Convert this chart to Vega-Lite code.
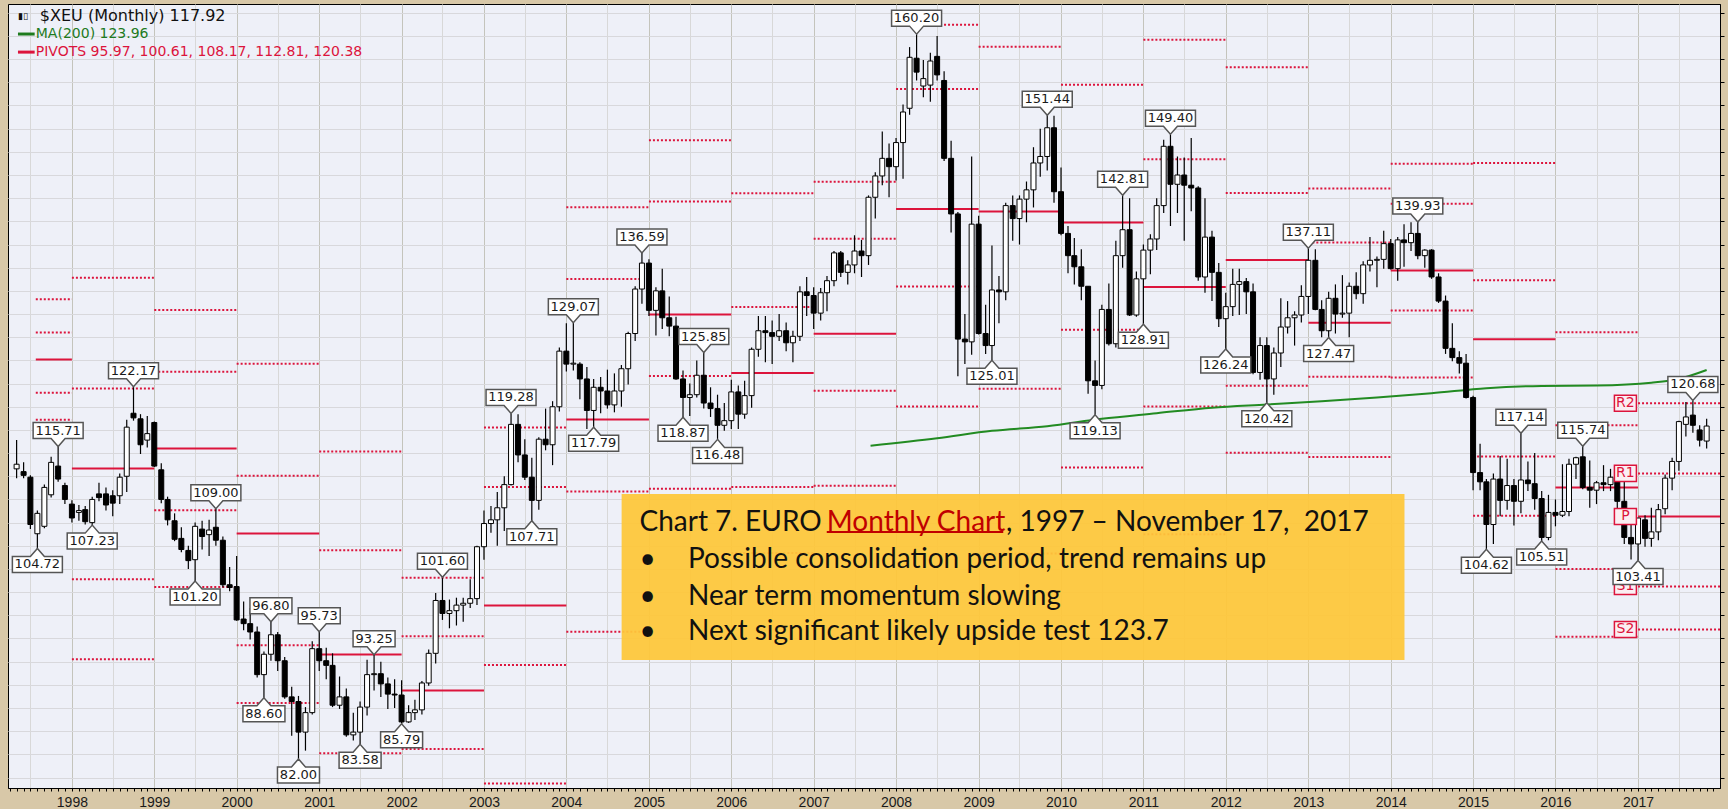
{
"$schema": "https://vega.github.io/schema/vega-lite/v6.json",
"width": 1712, "height": 784,
"autosize": {"type": "none"},
"padding": {"left": 8, "top": 4, "right": 8, "bottom": 21},
"background": "#d8c8a8",
"view": {"fill": "#eef0f8", "stroke": "#000000", "strokeWidth": 1},
"datasets": {
"cdl": [
{"d":"1997-05-01","o":113.3,"h":116.4,"l":112.3,"c":113.8},
{"d":"1997-06-01","o":113.0,"h":114.0,"l":112.3,"c":112.6},
{"d":"1997-07-01","o":112.4,"h":112.6,"l":106.8,"c":107.3},
{"d":"1997-08-01","o":106.3,"h":108.8,"l":104.72,"c":108.5},
{"d":"1997-09-01","o":107.1,"h":111.6,"l":106.9,"c":111.3},
{"d":"1997-10-01","o":110.5,"h":114.6,"l":110.2,"c":114.0},
{"d":"1997-11-01","o":113.6,"h":115.71,"l":111.9,"c":112.2},
{"d":"1997-12-01","o":111.5,"h":111.8,"l":109.5,"c":110.0},
{"d":"1998-01-01","o":109.5,"h":109.9,"l":107.5,"c":108.0},
{"d":"1998-02-01","o":108.6,"h":109.4,"l":107.7,"c":108.8},
{"d":"1998-03-01","o":108.9,"h":109.3,"l":107.3,"c":107.6},
{"d":"1998-04-01","o":107.5,"h":110.3,"l":107.23,"c":110.0},
{"d":"1998-05-01","o":110.6,"h":111.8,"l":109.8,"c":110.2},
{"d":"1998-06-01","o":110.6,"h":111.3,"l":108.8,"c":109.4},
{"d":"1998-07-01","o":110.4,"h":111.0,"l":108.2,"c":109.6},
{"d":"1998-08-01","o":110.4,"h":112.8,"l":109.5,"c":112.4},
{"d":"1998-09-01","o":112.5,"h":118.6,"l":110.8,"c":117.8},
{"d":"1998-10-01","o":119.3,"h":122.17,"l":118.5,"c":118.8},
{"d":"1998-11-01","o":118.7,"h":119.2,"l":114.9,"c":115.9},
{"d":"1998-12-01","o":116.4,"h":119.0,"l":115.6,"c":117.1},
{"d":"1999-01-01","o":118.3,"h":118.4,"l":113.5,"c":113.6},
{"d":"1999-02-01","o":113.2,"h":113.9,"l":109.6,"c":110.0},
{"d":"1999-03-01","o":110.0,"h":110.3,"l":107.2,"c":107.8},
{"d":"1999-04-01","o":107.7,"h":108.5,"l":105.5,"c":105.7},
{"d":"1999-05-01","o":105.8,"h":107.0,"l":104.3,"c":104.6},
{"d":"1999-06-01","o":104.5,"h":105.0,"l":102.5,"c":103.4},
{"d":"1999-07-01","o":103.5,"h":107.5,"l":101.2,"c":107.1},
{"d":"1999-08-01","o":106.8,"h":107.7,"l":104.6,"c":106.0},
{"d":"1999-09-01","o":106.2,"h":107.8,"l":103.9,"c":106.7},
{"d":"1999-10-01","o":107.0,"h":109.0,"l":105.0,"c":105.6},
{"d":"1999-11-01","o":105.6,"h":106.0,"l":100.5,"c":100.8},
{"d":"1999-12-01","o":100.8,"h":102.7,"l":100.1,"c":100.5},
{"d":"2000-01-01","o":100.6,"h":103.9,"l":96.9,"c":97.0},
{"d":"2000-02-01","o":97.1,"h":99.0,"l":95.9,"c":96.6},
{"d":"2000-03-01","o":96.6,"h":98.3,"l":94.9,"c":95.7},
{"d":"2000-04-01","o":95.7,"h":96.3,"l":90.8,"c":91.1},
{"d":"2000-05-01","o":91.1,"h":93.6,"l":88.6,"c":93.3},
{"d":"2000-06-01","o":93.3,"h":96.8,"l":92.6,"c":95.4},
{"d":"2000-07-01","o":95.4,"h":95.7,"l":91.5,"c":92.6},
{"d":"2000-08-01","o":92.6,"h":93.0,"l":88.5,"c":88.7},
{"d":"2000-09-01","o":88.7,"h":89.8,"l":84.5,"c":88.2},
{"d":"2000-10-01","o":88.2,"h":88.8,"l":82.0,"c":84.9},
{"d":"2000-11-01","o":84.9,"h":87.6,"l":82.9,"c":87.0},
{"d":"2000-12-01","o":87.0,"h":94.7,"l":86.8,"c":93.9},
{"d":"2001-01-01","o":93.9,"h":95.73,"l":91.5,"c":92.6},
{"d":"2001-02-01","o":92.6,"h":94.0,"l":90.6,"c":92.1},
{"d":"2001-03-01","o":92.1,"h":93.4,"l":87.6,"c":87.8},
{"d":"2001-04-01","o":87.8,"h":90.9,"l":87.4,"c":88.7},
{"d":"2001-05-01","o":88.7,"h":89.6,"l":84.4,"c":84.6},
{"d":"2001-06-01","o":84.6,"h":87.0,"l":84.0,"c":84.9},
{"d":"2001-07-01","o":84.9,"h":88.2,"l":83.58,"c":87.6},
{"d":"2001-08-01","o":87.6,"h":92.7,"l":86.7,"c":91.1},
{"d":"2001-09-01","o":91.1,"h":93.25,"l":89.4,"c":91.2},
{"d":"2001-10-01","o":91.2,"h":92.5,"l":88.7,"c":90.1},
{"d":"2001-11-01","o":90.1,"h":90.8,"l":87.4,"c":89.0},
{"d":"2001-12-01","o":89.0,"h":90.6,"l":87.5,"c":88.9},
{"d":"2002-01-01","o":88.9,"h":90.5,"l":85.79,"c":86.0},
{"d":"2002-02-01","o":86.0,"h":87.8,"l":85.9,"c":87.0},
{"d":"2002-03-01","o":87.0,"h":88.4,"l":86.2,"c":87.3},
{"d":"2002-04-01","o":87.3,"h":90.4,"l":86.8,"c":90.2},
{"d":"2002-05-01","o":90.2,"h":93.8,"l":89.9,"c":93.4},
{"d":"2002-06-01","o":93.4,"h":99.9,"l":92.3,"c":99.1},
{"d":"2002-07-01","o":99.1,"h":101.6,"l":97.0,"c":97.7},
{"d":"2002-08-01","o":97.7,"h":99.2,"l":96.1,"c":98.0},
{"d":"2002-09-01","o":98.0,"h":99.4,"l":96.4,"c":98.6},
{"d":"2002-10-01","o":98.6,"h":99.4,"l":96.8,"c":98.8},
{"d":"2002-11-01","o":98.8,"h":101.4,"l":98.3,"c":99.3},
{"d":"2002-12-01","o":99.3,"h":105.0,"l":98.6,"c":104.9},
{"d":"2003-01-01","o":104.9,"h":108.8,"l":103.5,"c":107.4},
{"d":"2003-02-01","o":107.4,"h":109.3,"l":106.4,"c":107.8},
{"d":"2003-03-01","o":107.8,"h":110.8,"l":105.0,"c":109.1},
{"d":"2003-04-01","o":109.1,"h":112.5,"l":106.6,"c":111.6},
{"d":"2003-05-01","o":111.6,"h":119.28,"l":111.5,"c":118.1},
{"d":"2003-06-01","o":118.1,"h":119.2,"l":114.0,"c":114.8},
{"d":"2003-07-01","o":114.8,"h":116.5,"l":112.1,"c":112.4},
{"d":"2003-08-01","o":112.4,"h":114.5,"l":107.71,"c":109.9},
{"d":"2003-09-01","o":109.9,"h":116.7,"l":108.9,"c":116.5},
{"d":"2003-10-01","o":116.5,"h":119.8,"l":115.3,"c":115.9},
{"d":"2003-11-01","o":115.9,"h":120.6,"l":113.7,"c":120.0},
{"d":"2003-12-01","o":120.0,"h":126.4,"l":119.5,"c":126.0},
{"d":"2004-01-01","o":126.0,"h":129.0,"l":123.8,"c":124.6},
{"d":"2004-02-01","o":124.6,"h":129.07,"l":123.9,"c":124.7},
{"d":"2004-03-01","o":124.6,"h":124.8,"l":120.8,"c":123.0},
{"d":"2004-04-01","o":123.0,"h":124.3,"l":117.6,"c":119.6},
{"d":"2004-05-01","o":119.6,"h":123.0,"l":117.79,"c":122.1},
{"d":"2004-06-01","o":122.1,"h":123.2,"l":119.3,"c":121.7},
{"d":"2004-07-01","o":121.7,"h":124.0,"l":119.8,"c":120.2},
{"d":"2004-08-01","o":120.2,"h":123.6,"l":119.4,"c":121.7},
{"d":"2004-09-01","o":121.7,"h":124.5,"l":120.0,"c":124.1},
{"d":"2004-10-01","o":124.1,"h":128.1,"l":122.4,"c":127.9},
{"d":"2004-11-01","o":127.9,"h":133.0,"l":127.1,"c":132.7},
{"d":"2004-12-01","o":132.7,"h":136.59,"l":131.1,"c":135.5},
{"d":"2005-01-01","o":135.5,"h":135.9,"l":129.8,"c":130.4},
{"d":"2005-02-01","o":130.4,"h":132.9,"l":127.7,"c":132.5},
{"d":"2005-03-01","o":132.5,"h":134.9,"l":128.4,"c":129.6},
{"d":"2005-04-01","o":129.6,"h":131.9,"l":127.6,"c":128.7},
{"d":"2005-05-01","o":128.7,"h":129.7,"l":122.9,"c":123.0},
{"d":"2005-06-01","o":123.0,"h":123.9,"l":118.87,"c":121.0},
{"d":"2005-07-01","o":121.0,"h":122.5,"l":119.0,"c":121.3},
{"d":"2005-08-01","o":121.3,"h":125.0,"l":121.0,"c":123.4},
{"d":"2005-09-01","o":123.4,"h":125.85,"l":119.8,"c":120.4},
{"d":"2005-10-01","o":120.4,"h":122.1,"l":118.9,"c":119.8},
{"d":"2005-11-01","o":119.8,"h":121.3,"l":116.48,"c":118.0},
{"d":"2005-12-01","o":118.0,"h":120.4,"l":117.4,"c":118.5},
{"d":"2006-01-01","o":118.5,"h":122.9,"l":117.6,"c":121.6},
{"d":"2006-02-01","o":121.6,"h":122.3,"l":117.6,"c":119.2},
{"d":"2006-03-01","o":119.2,"h":122.8,"l":118.7,"c":121.2},
{"d":"2006-04-01","o":121.2,"h":126.4,"l":119.9,"c":126.2},
{"d":"2006-05-01","o":126.2,"h":129.8,"l":125.4,"c":128.2},
{"d":"2006-06-01","o":128.2,"h":129.8,"l":124.8,"c":128.0},
{"d":"2006-07-01","o":128.0,"h":129.3,"l":124.6,"c":127.6},
{"d":"2006-08-01","o":127.6,"h":130.0,"l":127.1,"c":128.2},
{"d":"2006-09-01","o":128.2,"h":129.1,"l":126.0,"c":126.9},
{"d":"2006-10-01","o":126.9,"h":128.2,"l":124.8,"c":127.6},
{"d":"2006-11-01","o":127.6,"h":133.0,"l":127.1,"c":132.4},
{"d":"2006-12-01","o":132.4,"h":134.0,"l":129.8,"c":132.0},
{"d":"2007-01-01","o":132.0,"h":132.9,"l":128.4,"c":130.1},
{"d":"2007-02-01","o":130.1,"h":132.8,"l":129.3,"c":132.3},
{"d":"2007-03-01","o":132.3,"h":134.1,"l":130.3,"c":133.6},
{"d":"2007-04-01","o":133.6,"h":136.8,"l":133.0,"c":136.6},
{"d":"2007-05-01","o":136.6,"h":136.8,"l":134.0,"c":134.5},
{"d":"2007-06-01","o":134.5,"h":135.8,"l":133.2,"c":135.3},
{"d":"2007-07-01","o":135.3,"h":138.5,"l":134.4,"c":136.8},
{"d":"2007-08-01","o":136.8,"h":138.0,"l":134.0,"c":136.3},
{"d":"2007-09-01","o":136.3,"h":142.8,"l":135.3,"c":142.6},
{"d":"2007-10-01","o":142.6,"h":145.3,"l":140.3,"c":144.9},
{"d":"2007-11-01","o":144.9,"h":149.7,"l":143.9,"c":146.8},
{"d":"2007-12-01","o":146.8,"h":148.4,"l":142.6,"c":145.9},
{"d":"2008-01-01","o":145.9,"h":149.0,"l":144.4,"c":148.5},
{"d":"2008-02-01","o":148.5,"h":152.6,"l":144.6,"c":151.8},
{"d":"2008-03-01","o":152.2,"h":158.8,"l":151.5,"c":157.7},
{"d":"2008-04-01","o":157.6,"h":160.2,"l":155.2,"c":156.1},
{"d":"2008-05-01","o":154.6,"h":157.4,"l":153.4,"c":155.4},
{"d":"2008-06-01","o":154.7,"h":158.2,"l":152.9,"c":157.3},
{"d":"2008-07-01","o":157.8,"h":160.0,"l":155.2,"c":155.8},
{"d":"2008-08-01","o":155.2,"h":156.2,"l":146.5,"c":146.8},
{"d":"2008-09-01","o":146.8,"h":148.7,"l":138.8,"c":140.8},
{"d":"2008-10-01","o":140.8,"h":141.0,"l":123.3,"c":127.3},
{"d":"2008-11-01","o":127.3,"h":130.0,"l":124.6,"c":127.0},
{"d":"2008-12-01","o":127.0,"h":147.0,"l":125.6,"c":139.7},
{"d":"2009-01-01","o":139.7,"h":140.6,"l":127.8,"c":127.9},
{"d":"2009-02-01","o":127.9,"h":131.0,"l":125.7,"c":126.6},
{"d":"2009-03-01","o":126.6,"h":137.4,"l":125.01,"c":132.6},
{"d":"2009-04-01","o":132.6,"h":134.1,"l":129.0,"c":132.4},
{"d":"2009-05-01","o":132.4,"h":142.0,"l":131.5,"c":141.7},
{"d":"2009-06-01","o":141.7,"h":142.8,"l":137.9,"c":140.3},
{"d":"2009-07-01","o":140.3,"h":142.8,"l":137.5,"c":142.4},
{"d":"2009-08-01","o":142.4,"h":144.3,"l":139.9,"c":143.4},
{"d":"2009-09-01","o":143.4,"h":148.0,"l":141.5,"c":146.3},
{"d":"2009-10-01","o":146.3,"h":150.0,"l":144.8,"c":147.0},
{"d":"2009-11-01","o":147.0,"h":151.44,"l":145.5,"c":150.1},
{"d":"2009-12-01","o":150.1,"h":151.4,"l":142.0,"c":143.2},
{"d":"2010-01-01","o":143.2,"h":145.8,"l":138.5,"c":138.7},
{"d":"2010-02-01","o":138.7,"h":139.5,"l":134.4,"c":136.3},
{"d":"2010-03-01","o":136.3,"h":138.2,"l":133.2,"c":135.1},
{"d":"2010-04-01","o":135.1,"h":137.0,"l":131.5,"c":133.0},
{"d":"2010-05-01","o":133.0,"h":133.0,"l":121.4,"c":122.8},
{"d":"2010-06-01","o":122.8,"h":125.0,"l":119.13,"c":122.3},
{"d":"2010-07-01","o":122.3,"h":131.0,"l":121.9,"c":130.5},
{"d":"2010-08-01","o":130.5,"h":133.3,"l":126.6,"c":126.8},
{"d":"2010-09-01","o":126.8,"h":137.9,"l":126.4,"c":136.3},
{"d":"2010-10-01","o":136.3,"h":142.81,"l":135.0,"c":139.1},
{"d":"2010-11-01","o":139.1,"h":142.5,"l":129.8,"c":129.9},
{"d":"2010-12-01","o":129.9,"h":134.6,"l":129.7,"c":133.8},
{"d":"2011-01-01","o":133.8,"h":137.5,"l":128.91,"c":136.9},
{"d":"2011-02-01","o":136.9,"h":138.6,"l":134.3,"c":138.1},
{"d":"2011-03-01","o":138.1,"h":142.5,"l":136.9,"c":141.7},
{"d":"2011-04-01","o":141.7,"h":148.8,"l":140.9,"c":148.1},
{"d":"2011-05-01","o":148.1,"h":149.4,"l":139.5,"c":144.0},
{"d":"2011-06-01","o":144.0,"h":147.0,"l":140.9,"c":145.0},
{"d":"2011-07-01","o":145.0,"h":146.9,"l":137.9,"c":143.9},
{"d":"2011-08-01","o":143.9,"h":149.0,"l":141.1,"c":143.6},
{"d":"2011-09-01","o":143.6,"h":143.8,"l":133.6,"c":134.0},
{"d":"2011-10-01","o":134.0,"h":142.5,"l":132.3,"c":138.3},
{"d":"2011-11-01","o":138.3,"h":139.0,"l":131.4,"c":134.5},
{"d":"2011-12-01","o":134.5,"h":135.5,"l":128.6,"c":129.5},
{"d":"2012-01-01","o":129.5,"h":132.3,"l":126.24,"c":130.8},
{"d":"2012-02-01","o":130.8,"h":134.9,"l":129.8,"c":133.2},
{"d":"2012-03-01","o":133.2,"h":134.9,"l":129.9,"c":133.5},
{"d":"2012-04-01","o":133.5,"h":133.9,"l":130.0,"c":132.4},
{"d":"2012-05-01","o":132.4,"h":133.3,"l":123.5,"c":123.7},
{"d":"2012-06-01","o":123.7,"h":127.5,"l":122.9,"c":126.6},
{"d":"2012-07-01","o":126.6,"h":127.5,"l":120.42,"c":123.0},
{"d":"2012-08-01","o":123.0,"h":126.4,"l":121.3,"c":125.8},
{"d":"2012-09-01","o":125.8,"h":131.7,"l":124.3,"c":128.6},
{"d":"2012-10-01","o":128.6,"h":131.4,"l":127.9,"c":129.6},
{"d":"2012-11-01","o":129.6,"h":130.3,"l":126.6,"c":129.9},
{"d":"2012-12-01","o":129.9,"h":133.1,"l":129.1,"c":131.9},
{"d":"2013-01-01","o":131.9,"h":137.11,"l":130.0,"c":135.8},
{"d":"2013-02-01","o":135.8,"h":137.0,"l":130.4,"c":130.5},
{"d":"2013-03-01","o":130.5,"h":131.5,"l":127.5,"c":128.2},
{"d":"2013-04-01","o":128.2,"h":132.4,"l":127.47,"c":131.7},
{"d":"2013-05-01","o":131.7,"h":133.2,"l":127.9,"c":130.0},
{"d":"2013-06-01","o":130.0,"h":134.2,"l":129.6,"c":130.1},
{"d":"2013-07-01","o":130.1,"h":133.4,"l":127.5,"c":133.0},
{"d":"2013-08-01","o":133.0,"h":134.5,"l":131.6,"c":132.2},
{"d":"2013-09-01","o":132.2,"h":135.7,"l":131.1,"c":135.3},
{"d":"2013-10-01","o":135.3,"h":138.3,"l":134.6,"c":135.8},
{"d":"2013-11-01","o":135.8,"h":136.2,"l":132.9,"c":135.9},
{"d":"2013-12-01","o":135.9,"h":139.0,"l":134.9,"c":137.6},
{"d":"2014-01-01","o":137.6,"h":138.1,"l":134.8,"c":134.9},
{"d":"2014-02-01","o":134.9,"h":138.3,"l":133.6,"c":138.0},
{"d":"2014-03-01","o":138.0,"h":139.7,"l":135.1,"c":137.7},
{"d":"2014-04-01","o":137.7,"h":139.9,"l":136.8,"c":138.7},
{"d":"2014-05-01","o":138.7,"h":139.93,"l":135.9,"c":136.3},
{"d":"2014-06-01","o":136.3,"h":137.0,"l":135.0,"c":136.9},
{"d":"2014-07-01","o":136.9,"h":137.0,"l":133.8,"c":134.0},
{"d":"2014-08-01","o":134.0,"h":134.4,"l":131.2,"c":131.4},
{"d":"2014-09-01","o":131.4,"h":132.0,"l":125.7,"c":126.3},
{"d":"2014-10-01","o":126.3,"h":129.0,"l":124.9,"c":125.3},
{"d":"2014-11-01","o":125.3,"h":126.0,"l":123.6,"c":124.7},
{"d":"2014-12-01","o":124.7,"h":125.7,"l":120.9,"c":121.0},
{"d":"2015-01-01","o":121.0,"h":121.2,"l":111.0,"c":112.9},
{"d":"2015-02-01","o":112.9,"h":116.0,"l":111.0,"c":111.9},
{"d":"2015-03-01","o":111.9,"h":112.2,"l":104.62,"c":107.3},
{"d":"2015-04-01","o":107.3,"h":112.8,"l":105.2,"c":112.2},
{"d":"2015-05-01","o":112.2,"h":114.7,"l":108.2,"c":109.9},
{"d":"2015-06-01","o":109.9,"h":114.4,"l":108.9,"c":111.5},
{"d":"2015-07-01","o":111.5,"h":112.2,"l":107.2,"c":109.8},
{"d":"2015-08-01","o":109.8,"h":117.14,"l":108.5,"c":112.1},
{"d":"2015-09-01","o":112.1,"h":114.1,"l":110.9,"c":111.7},
{"d":"2015-10-01","o":111.7,"h":115.0,"l":108.9,"c":110.1},
{"d":"2015-11-01","o":110.1,"h":110.9,"l":105.51,"c":105.9},
{"d":"2015-12-01","o":105.9,"h":110.5,"l":105.6,"c":108.6},
{"d":"2016-01-01","o":108.6,"h":110.0,"l":107.1,"c":108.3},
{"d":"2016-02-01","o":108.3,"h":113.8,"l":108.1,"c":108.7},
{"d":"2016-03-01","o":108.7,"h":114.4,"l":108.2,"c":113.8},
{"d":"2016-04-01","o":113.8,"h":114.6,"l":112.2,"c":114.5},
{"d":"2016-05-01","o":114.6,"h":115.74,"l":111.1,"c":111.3},
{"d":"2016-06-01","o":111.3,"h":114.2,"l":109.1,"c":111.0},
{"d":"2016-07-01","o":111.0,"h":112.0,"l":109.5,"c":111.8},
{"d":"2016-08-01","o":111.8,"h":113.7,"l":110.9,"c":111.6},
{"d":"2016-09-01","o":111.6,"h":113.3,"l":110.9,"c":112.4},
{"d":"2016-10-01","o":112.0,"h":112.7,"l":108.6,"c":109.8},
{"d":"2016-11-01","o":109.8,"h":113.6,"l":105.2,"c":105.9},
{"d":"2016-12-01","o":105.9,"h":108.7,"l":103.53,"c":105.2},
{"d":"2017-01-01","o":105.2,"h":108.0,"l":103.41,"c":108.0},
{"d":"2017-02-01","o":107.8,"h":108.3,"l":104.9,"c":105.8},
{"d":"2017-03-01","o":105.8,"h":109.1,"l":104.9,"c":106.5},
{"d":"2017-04-01","o":106.5,"h":109.5,"l":105.6,"c":108.9},
{"d":"2017-05-01","o":109.0,"h":112.7,"l":108.4,"c":112.3},
{"d":"2017-06-01","o":112.3,"h":114.5,"l":111.0,"c":114.1},
{"d":"2017-07-01","o":114.1,"h":118.5,"l":113.1,"c":118.4},
{"d":"2017-08-01","o":118.1,"h":120.5,"l":116.8,"c":118.9},
{"d":"2017-09-01","o":119.1,"h":120.68,"l":117.2,"c":118.0},
{"d":"2017-10-01","o":117.5,"h":118.0,"l":115.7,"c":116.4},
{"d":"2017-11-01","o":116.3,"h":118.7,"l":115.5,"c":117.92}
],
"ma": [
{"d":"2007-09-10","v":115.8},{"d":"2008-07-01","v":116.6},{"d":"2009-03-01","v":117.4},{"d":"2009-11-01","v":117.9},
{"d":"2010-07-01","v":118.7},{"d":"2011-03-01","v":119.3},{"d":"2011-11-01","v":119.9},{"d":"2012-07-01","v":120.25},
{"d":"2013-03-01","v":120.6},{"d":"2013-11-01","v":121.0},{"d":"2014-07-01","v":121.45},{"d":"2015-03-01","v":122.0},
{"d":"2015-11-01","v":122.25},{"d":"2016-07-01","v":122.3},{"d":"2017-03-01","v":122.6},{"d":"2017-07-01","v":123.0},
{"d":"2017-11-01","v":123.96}
],
"piv": [
{"d":"1997-07-25","d2":"1998-01-01","k":"R2","v":131.6},{"d":"1997-07-25","d2":"1998-01-01","k":"R1","v":128.0},{"d":"1997-07-25","d2":"1998-01-01","k":"P","v":125.1},{"d":"1997-07-25","d2":"1998-01-01","k":"S1","v":121.5},{"d":"1997-07-25","d2":"1998-01-01","k":"S2","v":118.6},
{"d":"1998-01-01","d2":"1999-01-01","k":"R2","v":133.92},{"d":"1998-01-01","d2":"1999-01-01","k":"R1","v":121.96},{"d":"1998-01-01","d2":"1999-01-01","k":"P","v":113.34},{"d":"1998-01-01","d2":"1999-01-01","k":"S1","v":101.38},{"d":"1998-01-01","d2":"1999-01-01","k":"S2","v":92.76},
{"d":"1999-01-01","d2":"2000-01-01","k":"R2","v":130.44},{"d":"1999-01-01","d2":"2000-01-01","k":"R1","v":123.77},{"d":"1999-01-01","d2":"2000-01-01","k":"P","v":115.5},{"d":"1999-01-01","d2":"2000-01-01","k":"S1","v":108.83},{"d":"1999-01-01","d2":"2000-01-01","k":"S2","v":100.56},
{"d":"2000-01-01","d2":"2001-01-01","k":"R2","v":124.63},{"d":"2000-01-01","d2":"2001-01-01","k":"R1","v":112.56},{"d":"2000-01-01","d2":"2001-01-01","k":"P","v":106.33},{"d":"2000-01-01","d2":"2001-01-01","k":"S1","v":94.26},{"d":"2000-01-01","d2":"2001-01-01","k":"S2","v":88.03},
{"d":"2001-01-01","d2":"2002-01-01","k":"R2","v":115.17},{"d":"2001-01-01","d2":"2002-01-01","k":"R1","v":104.53},{"d":"2001-01-01","d2":"2002-01-01","k":"P","v":93.27},{"d":"2001-01-01","d2":"2002-01-01","k":"S1","v":82.63},
{"d":"2002-01-01","d2":"2003-01-01","k":"R2","v":101.55},{"d":"2002-01-01","d2":"2003-01-01","k":"R1","v":95.23},{"d":"2002-01-01","d2":"2003-01-01","k":"P","v":89.4},{"d":"2002-01-01","d2":"2003-01-01","k":"S1","v":83.08},
{"d":"2003-01-01","d2":"2004-01-01","k":"R2","v":117.77},{"d":"2003-01-01","d2":"2004-01-01","k":"R1","v":111.34},{"d":"2003-01-01","d2":"2004-01-01","k":"P","v":98.56},{"d":"2003-01-01","d2":"2004-01-01","k":"S1","v":92.13},{"d":"2003-01-01","d2":"2004-01-01","k":"S2","v":79.35},
{"d":"2004-01-01","d2":"2005-01-01","k":"R2","v":141.53},{"d":"2004-01-01","d2":"2005-01-01","k":"R1","v":133.77},{"d":"2004-01-01","d2":"2005-01-01","k":"P","v":118.63},{"d":"2004-01-01","d2":"2005-01-01","k":"S1","v":110.87},{"d":"2004-01-01","d2":"2005-01-01","k":"S2","v":95.73},
{"d":"2005-01-01","d2":"2006-01-01","k":"R2","v":148.76},{"d":"2005-01-01","d2":"2006-01-01","k":"R1","v":142.13},{"d":"2005-01-01","d2":"2006-01-01","k":"P","v":129.96},{"d":"2005-01-01","d2":"2006-01-01","k":"S1","v":123.33},{"d":"2005-01-01","d2":"2006-01-01","k":"S2","v":111.16},
{"d":"2006-01-01","d2":"2007-01-01","k":"R2","v":143.04},{"d":"2006-01-01","d2":"2007-01-01","k":"R1","v":130.77},{"d":"2006-01-01","d2":"2007-01-01","k":"P","v":123.63},{"d":"2006-01-01","d2":"2007-01-01","k":"S1","v":111.35},{"d":"2006-01-01","d2":"2007-01-01","k":"S2","v":104.21},
{"d":"2007-01-01","d2":"2008-01-01","k":"R2","v":144.27},{"d":"2007-01-01","d2":"2008-01-01","k":"R1","v":138.13},{"d":"2007-01-01","d2":"2008-01-01","k":"P","v":127.87},{"d":"2007-01-01","d2":"2008-01-01","k":"S1","v":121.73},{"d":"2007-01-01","d2":"2008-01-01","k":"S2","v":111.47},
{"d":"2008-01-01","d2":"2009-01-01","k":"R2","v":161.2},{"d":"2008-01-01","d2":"2009-01-01","k":"R1","v":154.27},{"d":"2008-01-01","d2":"2009-01-01","k":"P","v":141.33},{"d":"2008-01-01","d2":"2009-01-01","k":"S1","v":132.97},{"d":"2008-01-01","d2":"2009-01-01","k":"S2","v":120.03},
{"d":"2009-01-01","d2":"2010-01-01","k":"R1","v":158.83},{"d":"2009-01-01","d2":"2010-01-01","k":"P","v":141.07},{"d":"2009-01-01","d2":"2010-01-01","k":"S1","v":121.93},{"d":"2009-01-01","d2":"2010-01-01","k":"S2","v":104.17},
{"d":"2010-01-01","d2":"2011-01-01","k":"R1","v":154.75},{"d":"2010-01-01","d2":"2011-01-01","k":"P","v":139.88},{"d":"2010-01-01","d2":"2011-01-01","k":"S1","v":128.32},{"d":"2010-01-01","d2":"2011-01-01","k":"S2","v":113.45},
{"d":"2011-01-01","d2":"2012-01-01","k":"R2","v":159.58},{"d":"2011-01-01","d2":"2012-01-01","k":"R1","v":146.69},{"d":"2011-01-01","d2":"2012-01-01","k":"P","v":132.91},{"d":"2011-01-01","d2":"2012-01-01","k":"S1","v":120.02},{"d":"2011-01-01","d2":"2012-01-01","k":"S2","v":106.24},
{"d":"2012-01-01","d2":"2013-01-01","k":"R2","v":156.63},{"d":"2012-01-01","d2":"2013-01-01","k":"R1","v":143.07},{"d":"2012-01-01","d2":"2013-01-01","k":"P","v":135.83},{"d":"2012-01-01","d2":"2013-01-01","k":"S1","v":122.27},{"d":"2012-01-01","d2":"2013-01-01","k":"S2","v":115.03},
{"d":"2013-01-01","d2":"2014-01-01","k":"R2","v":143.55},{"d":"2013-01-01","d2":"2014-01-01","k":"R1","v":137.73},{"d":"2013-01-01","d2":"2014-01-01","k":"P","v":129.07},{"d":"2013-01-01","d2":"2014-01-01","k":"S1","v":123.25},{"d":"2013-01-01","d2":"2014-01-01","k":"S2","v":114.59},
{"d":"2014-01-01","d2":"2015-01-01","k":"R2","v":146.22},{"d":"2014-01-01","d2":"2015-01-01","k":"R1","v":141.91},{"d":"2014-01-01","d2":"2015-01-01","k":"P","v":134.69},{"d":"2014-01-01","d2":"2015-01-01","k":"S1","v":130.38},{"d":"2014-01-01","d2":"2015-01-01","k":"S2","v":123.16},
{"d":"2015-01-01","d2":"2016-01-01","k":"R2","v":146.3},{"d":"2015-01-01","d2":"2016-01-01","k":"R1","v":133.65},{"d":"2015-01-01","d2":"2016-01-01","k":"P","v":127.28},{"d":"2015-01-01","d2":"2016-01-01","k":"S1","v":114.62},{"d":"2015-01-01","d2":"2016-01-01","k":"S2","v":108.24},
{"d":"2016-01-01","d2":"2017-01-01","k":"R2","v":128.05},{"d":"2016-01-01","d2":"2017-01-01","k":"R1","v":118.0},{"d":"2016-01-01","d2":"2017-01-01","k":"P","v":111.3},{"d":"2016-01-01","d2":"2017-01-01","k":"S1","v":102.5},{"d":"2016-01-01","d2":"2017-01-01","k":"S2","v":95.2},
{"d":"2017-01-01","d2":"2017-12-31","k":"R2","v":120.38},{"d":"2017-01-01","d2":"2017-12-31","k":"R1","v":112.81},{"d":"2017-01-01","d2":"2017-12-31","k":"P","v":108.17},{"d":"2017-01-01","d2":"2017-12-31","k":"S1","v":100.61},{"d":"2017-01-01","d2":"2017-12-31","k":"S2","v":95.97}
],
"tags": [{"d":"2016-11-06","k":"R2","v":120.38},{"d":"2016-11-06","k":"R1","v":112.81},{"d":"2016-11-06","k":"P","v":108.17},{"d":"2016-11-06","k":"S1","v":100.61},{"d":"2016-11-06","k":"S2","v":95.97}],
"hi": [
{"d":"1997-11-01","v":115.71},{"d":"1998-10-01","v":122.17},{"d":"1999-10-01","v":109.0},{"d":"2000-06-01","v":96.8},
{"d":"2001-01-01","v":95.73},{"d":"2001-09-01","v":93.25},{"d":"2002-07-01","v":101.6},{"d":"2003-05-01","v":119.28},
{"d":"2004-02-01","v":129.07},{"d":"2004-12-01","v":136.59},{"d":"2005-09-01","v":125.85},{"d":"2008-04-01","v":160.2},
{"d":"2009-11-01","v":151.44},{"d":"2010-10-01","v":142.81},{"d":"2011-05-01","v":149.4},{"d":"2013-01-01","v":137.11},
{"d":"2014-05-01","v":139.93},{"d":"2015-08-01","v":117.14},{"d":"2016-05-01","v":115.74},{"d":"2017-09-01","v":120.68}
],
"lo": [
{"d":"1997-08-01","v":104.72},{"d":"1998-04-01","v":107.23},{"d":"1999-07-01","v":101.2},{"d":"2000-05-01","v":88.6},
{"d":"2000-10-01","v":82.0},{"d":"2001-07-01","v":83.58},{"d":"2002-01-01","v":85.79},{"d":"2003-08-01","v":107.71},
{"d":"2004-05-01","v":117.79},{"d":"2005-06-01","v":118.87},{"d":"2005-11-01","v":116.48},{"d":"2009-03-01","v":125.01},
{"d":"2010-06-01","v":119.13},{"d":"2011-01-01","v":128.91},{"d":"2012-01-01","v":126.24},{"d":"2012-07-01","v":120.42},
{"d":"2013-04-01","v":127.47},{"d":"2015-03-01","v":104.62},{"d":"2015-11-01","v":105.51},{"d":"2017-01-01","v":103.41}
]
},
"encoding": {
"x": {"field": "d", "type": "temporal", "title": null,
  "scale": {"type": "utc", "domain": [{"year": 1997, "month": 4, "date": 15, "utc": true}, {"year": 2017, "month": 12, "date": 8, "utc": true}]},
  "axis": {"orient": "bottom", "tickCount": {"interval": "month", "step": 1},
    "labelExpr": "utcmonth(datum.value) == 0 ? utcFormat(datum.value, '%Y') : ''",
    "labelOverlap": false, "labelBound": false, "labelFlush": false,
    "labelFont": "Liberation Sans Narrow, Liberation Sans, sans-serif", "labelFontSize": 14, "labelColor": "#1a1a1a", "labelPadding": 4,
    "tickSize": 3, "tickColor": "#000000", "domainColor": "#000000",
    "grid": true,
    "gridColor": {"condition": {"test": "utcmonth(datum.value) == 0", "value": "#c4c4bc"}, "value": "#d8d8d8"},
    "gridOpacity": {"condition": {"test": "utcmonth(datum.value) % 6 == 0", "value": 1}, "value": 0}}},
"y": {"field": "v", "type": "quantitative", "title": null,
  "scale": {"domain": [78.87, 163.45], "zero": false, "nice": false},
  "axis": {"orient": "right", "labels": false, "values": [80,82.5,85,87.5,90,92.5,95,97.5,100,102.5,105,107.5,110,112.5,115,117.5,120,122.5,125,127.5,130,132.5,135,137.5,140,142.5,145,147.5,150,152.5,155,157.5,160,162.5],
    "tickSize": 4, "tickColor": "#000000", "domainColor": "#000000", "grid": true, "gridColor": "#d8d8dc"}}
},
"layer": [
{"data": {"name": "piv"}, "mark": {"type": "rule", "clip": true, "color": "#dc143c", "strokeWidth": 2},
 "encoding": {"x2": {"field": "d2"}, "strokeDash": {"condition": {"test": "datum.k == 'P'", "value": [1, 0]}, "value": [2, 2]}}},
{"data": {"name": "ma"}, "mark": {"type": "line", "color": "#228b22", "strokeWidth": 2, "interpolate": "monotone"}},
{"data": {"name": "cdl"}, "mark": {"type": "rule", "color": "#000000", "strokeWidth": 1.2},
 "encoding": {"y": {"field": "l", "type": "quantitative", "title": null}, "y2": {"field": "h"}}},
{"data": {"name": "cdl"}, "mark": {"type": "bar", "width": 5, "stroke": "#000000", "strokeWidth": 1},
 "encoding": {"y": {"field": "o", "type": "quantitative", "title": null}, "y2": {"field": "c"},
   "fill": {"condition": {"test": "datum.c < datum.o", "value": "#000000"}, "value": "#ffffff"}}},
{"data": {"name": "tags"}, "mark": {"type": "point", "shape": "M-1,-0.73L1,-0.73L1,0.73L-1,0.73Z", "size": 484, "filled": true, "fill": "#fbeef2", "stroke": "#dc143c", "strokeWidth": 1.5, "opacity": 1}},
{"data": {"name": "tags"}, "mark": {"type": "text", "font": "DejaVu Sans", "fontSize": 14, "color": "#dc143c", "align": "center", "baseline": "middle"},
 "encoding": {"text": {"field": "k"}}},
{"data": {"name": "hi"}, "mark": {"type": "point", "size": 2500, "filled": true, "fill": "#ffffff", "stroke": "#555555", "strokeWidth": 1.5, "opacity": 1},
 "encoding": {"shape": {"condition": {"test": "datum.v >= 100", "value": "M0,0L-0.28,-0.32L-1,-0.32L-1,-0.96L1,-0.96L1,-0.32L0.28,-0.32Z"}, "value": "M0,0L-0.28,-0.32L-0.84,-0.32L-0.84,-0.96L0.84,-0.96L0.84,-0.32L0.28,-0.32Z"}}},
{"data": {"name": "hi"}, "mark": {"type": "text", "font": "DejaVu Sans", "fontSize": 13, "color": "#1a1a1a", "dy": -16, "align": "center", "baseline": "middle"},
 "encoding": {"text": {"field": "v", "type": "quantitative", "format": ".2f"}}},
{"data": {"name": "lo"}, "mark": {"type": "point", "size": 2500, "filled": true, "fill": "#ffffff", "stroke": "#555555", "strokeWidth": 1.5, "opacity": 1},
 "encoding": {"shape": {"condition": {"test": "datum.v >= 100", "value": "M0,0L-0.28,0.32L-1,0.32L-1,0.96L1,0.96L1,0.32L0.28,0.32Z"}, "value": "M0,0L-0.28,0.32L-0.84,0.32L-0.84,0.96L0.84,0.96L0.84,0.32L0.28,0.32Z"}}},
{"data": {"name": "lo"}, "mark": {"type": "text", "font": "DejaVu Sans", "fontSize": 13, "color": "#1a1a1a", "dy": 16, "align": "center", "baseline": "middle"},
 "encoding": {"text": {"field": "v", "type": "quantitative", "format": ".2f"}}},
{"data": {"values": [{"d": "2004-09-02", "d2": "2014-03-03", "v": 110.59, "v2": 92.68}]}, "mark": {"type": "rect", "fill": "#fec73a", "opacity": 0.94},
 "encoding": {"x2": {"field": "d2"}, "y2": {"field": "v2"}}},
{"data": {"values": [
  {"d": "2004-11-20", "v": 107.46, "t": "Chart 7. EURO"},
  {"d": "2009-05-02", "v": 107.46, "t": ", 1997 – November 17,\u00a0 2017"},
  {"d": "2004-11-20", "v": 103.47, "t": "•"},
  {"d": "2005-06-23", "v": 103.47, "t": "Possible consolidation period, trend remains up"},
  {"d": "2004-11-20", "v": 99.48, "t": "•"},
  {"d": "2005-06-23", "v": 99.48, "t": "Near term momentum slowing"},
  {"d": "2004-11-20", "v": 95.7, "t": "•"},
  {"d": "2005-06-23", "v": 95.7, "t": "Next significant likely upside test 123.7"}]},
 "mark": {"type": "text", "font": "Lato", "fontSize": 28, "color": "#111111", "align": "left", "baseline": "middle"},
 "encoding": {"text": {"field": "t"}}},
{"data": {"values": [{"d": "2007-02-28", "v": 107.46, "t": "Monthly Chart"}]},
 "mark": {"type": "text", "font": "Lato", "fontSize": 28, "color": "#c00000", "align": "left", "baseline": "middle"},
 "encoding": {"text": {"field": "t"}}},
{"data": {"values": [{"d": "2007-02-28", "d2": "2009-04-20", "v": 106.5}]}, "mark": {"type": "rule", "color": "#c00000", "strokeWidth": 2},
 "encoding": {"x2": {"field": "d2"}}},
{"data": {"values": [{"d": "1997-08-12", "v": 162.18, "t": "$XEU (Monthly) 117.92"}]},
 "mark": {"type": "text", "font": "DejaVu Sans", "fontSize": 16, "color": "#111111", "align": "left", "baseline": "middle"},
 "encoding": {"text": {"field": "t"}}},
{"data": {"values": [{"d": "1997-05-07", "v": 162.18, "t": "▮▯"}]},
 "mark": {"type": "text", "font": "DejaVu Sans", "fontSize": 9, "color": "#111111", "align": "left", "baseline": "middle"},
 "encoding": {"text": {"field": "t"}}},
{"data": {"values": [{"d": "1997-07-25", "v": 160.21, "t": "MA(200) 123.96"}]},
 "mark": {"type": "text", "font": "DejaVu Sans", "fontSize": 14, "color": "#1e7b1e", "align": "left", "baseline": "middle"},
 "encoding": {"text": {"field": "t"}}},
{"data": {"values": [{"d": "1997-07-25", "v": 158.26, "t": "PIVOTS 95.97, 100.61, 108.17, 112.81, 120.38"}]},
 "mark": {"type": "text", "font": "DejaVu Sans", "fontSize": 14, "color": "#dc143c", "align": "left", "baseline": "middle"},
 "encoding": {"text": {"field": "t"}}},
{"data": {"values": [{"d": "1997-05-07", "d2": "1997-07-20", "v": 160.21}]}, "mark": {"type": "rule", "color": "#1e7b1e", "strokeWidth": 3},
 "encoding": {"x2": {"field": "d2"}}},
{"data": {"values": [{"d": "1997-05-07", "d2": "1997-07-20", "v": 158.26}]}, "mark": {"type": "rule", "color": "#dc143c", "strokeWidth": 3},
 "encoding": {"x2": {"field": "d2"}}}
]
}
